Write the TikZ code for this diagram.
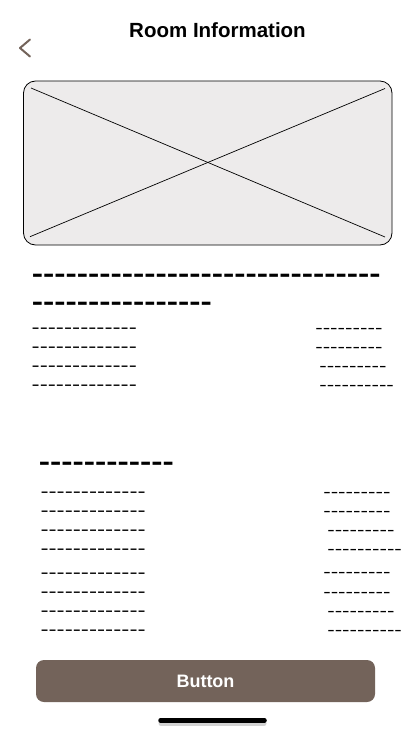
\documentclass[tikz,border=0pt]{standalone}
\usepackage{fontspec}
\setmainfont{Liberation Sans}
\newfontfamily\dashfont[FakeStretch=1.35]{Liberation Sans}
\newfontfamily\headfont[FakeStretch=1.3]{Liberation Sans}
\definecolor{btnbrown}{RGB}{115,99,90}
\definecolor{imggray}{RGB}{237,235,235}
\newcommand\dashes[1]{\foreach\k in {1,...,#1}{-}}
\tikzset{
  rowtxt/.style={anchor=base west,inner sep=0pt,text height=8pt,text depth=0pt,font=\dashfont\fontsize{18}{18}\selectfont},
  valtxt/.style={anchor=base west,inner sep=0pt,text height=8pt,text depth=0pt,font=\dashfont\fontsize{16.6}{17}\selectfont},
  headtxt/.style={anchor=base west,inner sep=0pt,text height=11pt,text depth=0pt,font=\headfont\bfseries\fontsize{26}{26}\selectfont},
}
\begin{document}
\begin{tikzpicture}[x=1pt,y=-1pt]
    \useasboundingbox (0,0) rectangle (414,736);
    % header
    \draw[btnbrown,line width=2pt,line cap=round,line join=round] (30,39.5) -- (20,48) -- (30,56.5);
    \node[anchor=base,inner sep=0pt,font=\bfseries\fontsize{20.5}{20}\selectfont] (title) at (217.5,37.3) {Room Information};
    % image placeholder
    \node[draw,fill=imggray,rounded corners=12pt,line width=0.8pt,minimum width=368.5pt,minimum height=164pt,inner sep=0pt] (photo) at (207.75,163) {};
    \coordinate (ptl) at (31,88);
    \coordinate (ptr) at (385,88.5);
    \coordinate (pbl) at (30,236.7);
    \coordinate (pbr) at (385,237);
    \draw[line width=0.7pt] (ptl) -- (pbr);
    \draw[line width=0.7pt] (ptr) -- (pbl);
    % room name
    \node[headtxt] (name1) at (31.6,282.5) {\dashes{31}};
    \node[headtxt] (name2) at (31.6,310.8) {\dashes{16}};
    \foreach \y in {328,347,366,385}
        \node[rowtxt] (l\y) at (31.5,\y+5.3) {\dashes{13}};
    \foreach \y/\x/\n in {328/316/9,347/316/9,366/320/9,385/320/10}
        \node[valtxt] (r\y) at (\x-0.9,\y+5) {\dashes{\n}};
    % second block
    \node[headtxt] (sub1) at (38.6,470.2) {\dashes{12}};
    \foreach \y in {492.3,511.3,530.3,549.3,572.7,592,611,630}
        \node[rowtxt] (m\y) at (40.3,\y+5.3) {\dashes{13}};
    \foreach \y/\x/\n in {492.3/324/9,511.3/324/9,530.3/328/9,549.3/328/10,572.7/324/9,592/324/9,611/328/9,630/328/10}
        \node[valtxt] (s\y) at (\x-0.9,\y+5) {\dashes{\n}};
    % button
    \node[fill=btnbrown,rounded corners=8pt,minimum width=339pt,minimum height=42pt,inner sep=0pt,text=white,font=\bfseries\fontsize{18}{18}\selectfont] (button) at (205.5,681) {Button};
    % home indicator
    \draw[black!35,opacity=.5,line width=5pt,line cap=round] (161,723.5) -- (264,723.5);
    \draw[line width=4.5pt,line cap=round] (160.5,720.5) -- (264.5,720.5);
\end{tikzpicture}
\end{document}
